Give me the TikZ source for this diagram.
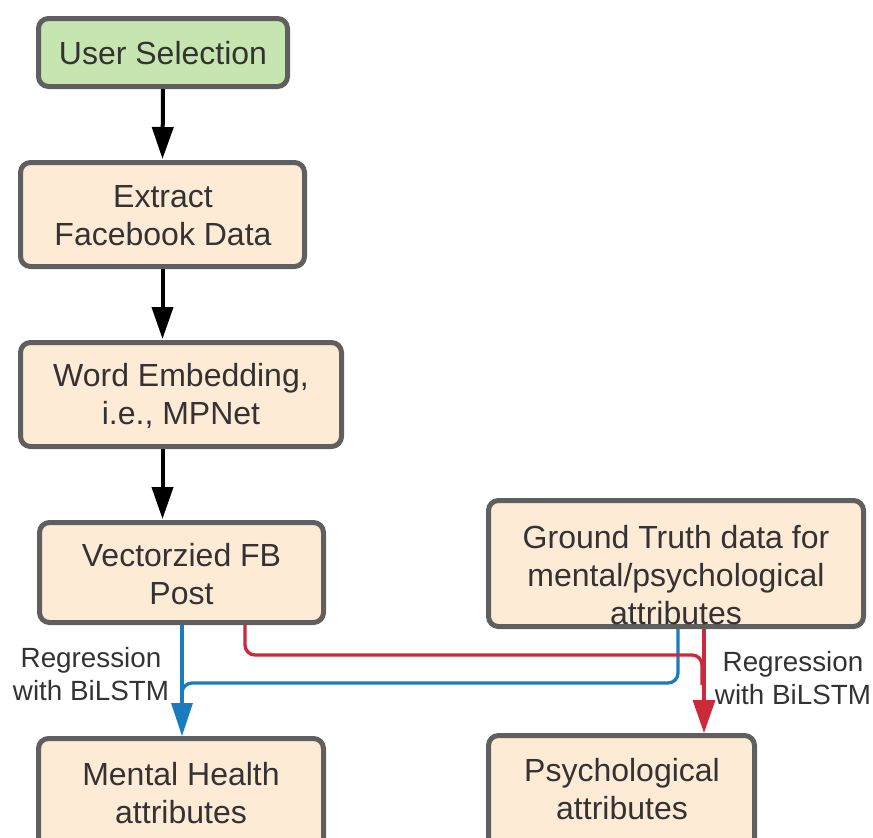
\documentclass[tikz,border=0pt]{standalone}
\usepackage{fontspec}
\setmainfont{Liberation Sans}
\usetikzlibrary{arrows.meta}
\definecolor{boxline}{HTML}{5F5F5F}
\definecolor{peach}{HTML}{FEEBD6}
\definecolor{leaf}{HTML}{C6E5B0}
\definecolor{ink}{HTML}{333333}
\definecolor{flowblue}{HTML}{1A7BBF}
\definecolor{flowred}{HTML}{CB2A38}
\tikzset{
  box/.style={draw=boxline, line width=5pt, rounded corners=10pt, fill=peach, inner sep=0pt},
  txt/.style={text=ink, align=center, font=\fontsize{32}{38}\selectfont, inner sep=0pt},
  lbl/.style={text=ink, align=center, font=\fontsize{27.8}{32.5}\selectfont, inner sep=0pt},
  blk/.style={line width=4pt, -{Triangle[length=32pt,width=21pt]}, shorten >=1pt},
  bluelink/.style={draw=flowblue, line width=3.3pt},
  redlink/.style={draw=flowred, line width=3.3pt},
}
\begin{document}
\begin{tikzpicture}[x=1pt,y=-1pt]
\useasboundingbox (0,0) rectangle (873,838);
\clip (0,0) rectangle (873,838);
% boxes (sizes measured along the border centre line)
\node[box, fill=leaf, minimum width=249pt, minimum height=68pt] (us) at (163,52.5) {};
\node[txt] (ust) at (163,53) {User Selection};
\node[box, minimum width=284pt, minimum height=104pt] (ex) at (162.5,214.5) {};
\node[txt] (ext) at (163,216) {Extract\\Facebook Data};
\node[box, minimum width=321pt, minimum height=104pt] (we) at (181,394.5) {};
\node[txt] (wet) at (181,396) {Word Embedding,\\i.e., MPNet};
\node[box, minimum width=284pt, minimum height=100pt] (vec) at (181.5,572.5) {};
\node[txt] (vect) at (181.5,574) {Vectorzied FB\\Post};
\node[box, minimum width=375pt, minimum height=126pt] (gt) at (676,563.5) {};
\node[txt] (gtt) at (676,575) {Ground Truth data for\\mental/psychological\\attributes};
\node[box, minimum width=285pt, minimum height=130pt] (mh) at (181,803.5) {};
\node[txt] (mht) at (181,793) {Mental Health\\attributes};
\node[box, minimum width=266pt, minimum height=130pt] (ps) at (621.5,800.5) {};
\node[txt] (pst) at (622,789) {Psychological\\attributes};
% main chain
\draw[blk] (us.south) -- (ex.north);
\draw[blk] (ex.south) -- (ex.south |- we.north);
\draw[blk] (we.south -| ex.south) -- (ex.south |- vec.north);
% regression links
\coordinate (b1) at (678,683);
\coordinate (b2) at (182,683);
\coordinate (r1) at (245,655);
\coordinate (r2) at (704,655);
\draw[bluelink, rounded corners=10pt] (gt.south -| b1) -- (b1) -- (b2) -- ++(0,30);
\draw[bluelink, -{Triangle[length=33pt,width=21pt]}] (vec.south -| b2) -- (mh.north -| b2);
\draw[redlink, rounded corners=10pt] (vec.south -| r1) -- (r1) -- ([xshift=-2pt]r2) -- ++(0,30);
\draw[redlink, -{Triangle[length=33pt,width=22pt]}] (gt.south -| r2) -- (ps.north -| r2);
% edge labels
\node[lbl] (lreg) at (91,674) {Regression\\with BiLSTM};
\node[lbl] (rreg) at (793,678) {Regression\\with BiLSTM};
\end{tikzpicture}
\end{document}
